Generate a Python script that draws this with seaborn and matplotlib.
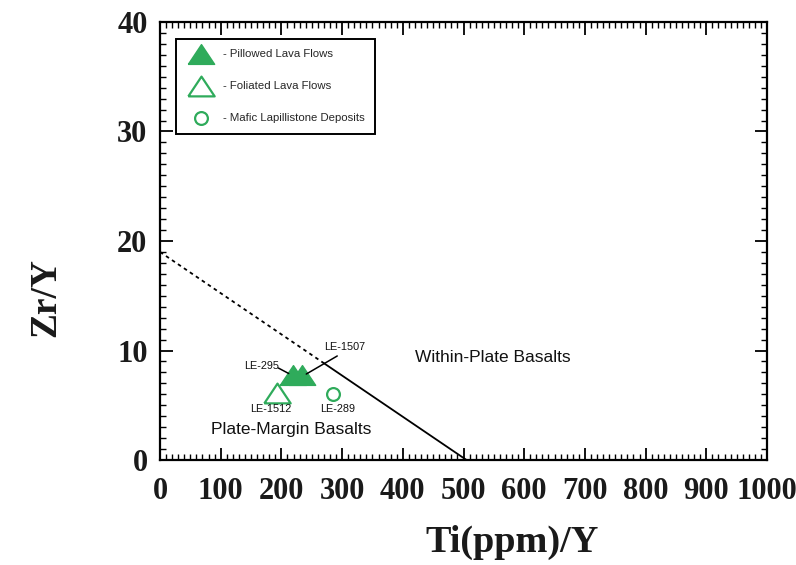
import numpy as np
import pandas as pd
import matplotlib
matplotlib.use("Agg")
import matplotlib.pyplot as plt
import seaborn as sns
from matplotlib.ticker import MultipleLocator

# ---- data ----
pillowed_ti = [219, 234]
pillowed_zr = [7.8, 7.8]
foliated_ti = [193]
foliated_zr = [6.1]
mafic_ti = [285]
mafic_zr = [6.0]

boundary_dash_x = [0, 270]
boundary_dash_y = [19, 8.84]
boundary_solid_x = [270, 505]
boundary_solid_y = [8.84, 0]

sample_labels = ["LE-295", "LE-1507", "LE-1512", "LE-289"]
label_xy = [(168, 8.6), (305, 10.3), (183, 4.65), (293, 4.65)]
pointer_from = [(195, 8.4), (292, 9.5)]
pointer_to = [(212, 7.9), (241, 7.85)]

field_labels = ["Plate-Margin Basalts", "Within-Plate Basalts"]
field_xy = [(216, 2.75), (549, 9.4)]

legend_labels = ["- Pillowed Lava Flows", "- Foliated Lava Flows", "- Mafic Lapillistone Deposits"]
x_ticks = [0, 100, 200, 300, 400, 500, 600, 700, 800, 900, 1000]
y_ticks = [0, 10, 20, 30, 40]

GREEN = "#2fab5b"

sns.set_theme(style="ticks")
plt.rcParams["font.family"] = ["Liberation Sans", "DejaVu Sans"]

fig = plt.figure(figsize=(7.96, 5.65), dpi=100)
ax = fig.add_axes([160 / 796, 105 / 565, 607 / 796, 438 / 565])

tri = [(-1, -0.75), (1, -0.75), (0, 0.75), (-1, -0.75)]

df_p = pd.DataFrame({"ti": pillowed_ti, "zr": pillowed_zr})
df_f = pd.DataFrame({"ti": foliated_ti, "zr": foliated_zr})
df_m = pd.DataFrame({"ti": mafic_ti, "zr": mafic_zr})

sns.scatterplot(data=df_p, x="ti", y="zr", ax=ax, marker=tri, s=360,
                color=GREEN, edgecolor=GREEN, linewidth=1.0,
                label=legend_labels[0], zorder=4)
sns.scatterplot(data=df_f, x="ti", y="zr", ax=ax, marker=tri, s=360,
                facecolor="white", edgecolor=GREEN, linewidth=1.6,
                label=legend_labels[1], zorder=4)
sns.scatterplot(data=df_m, x="ti", y="zr", ax=ax, marker="o", s=85,
                facecolor="white", edgecolor=GREEN, linewidth=1.6,
                label=legend_labels[2], zorder=4)

# boundary line
ax.plot(boundary_dash_x, boundary_dash_y, color="black", lw=1.3,
        linestyle=(0, (2.0, 2.0)), zorder=3)
ax.plot(boundary_solid_x, boundary_solid_y, color="black", lw=1.3, zorder=3)

# sample labels
for lab, (tx, ty) in zip(sample_labels, label_xy):
    ax.text(tx, ty, lab, fontsize=7.8, ha="center", va="center", color="#111111", zorder=5)
for (fx, fy), (tx, ty) in zip(pointer_from, pointer_to):
    ax.annotate("", xy=(tx, ty), xytext=(fx, fy),
                arrowprops=dict(arrowstyle="-", color="black", lw=1.1,
                                shrinkA=0, shrinkB=0), zorder=5)

for lab, (tx, ty) in zip(field_labels, field_xy):
    ax.text(tx, ty, lab, fontsize=12.5, ha="center", va="center", color="#111111")

ax.set_xlim(0, 1000)
ax.set_ylim(0, 40)
ax.set_xticks(x_ticks)
ax.set_yticks(y_ticks)
ax.xaxis.set_minor_locator(MultipleLocator(10))
ax.yaxis.set_minor_locator(MultipleLocator(1))
ax.tick_params(which="both", direction="in", top=True, right=True, color="black")
ax.tick_params(axis="x", which="major", length=9, width=1.3, pad=12.5)
ax.tick_params(axis="y", which="major", length=9, width=1.3, pad=9)
ax.tick_params(which="minor", length=4.5, width=1.0)
for lab in ax.get_xticklabels() + ax.get_yticklabels():
    lab.set_fontfamily("Liberation Serif")
    lab.set_fontweight("bold")
    lab.set_fontsize(22)
    lab.set_color("#1a1a1a")
for sp in ax.spines.values():
    sp.set_linewidth(1.6)
    sp.set_color("black")

ax.set_xlabel("Ti(ppm)/Y", fontfamily="Liberation Serif", fontweight="bold",
              fontsize=27.5, color="#1a1a1a")
ax.set_ylabel("Zr/Y", fontfamily="Liberation Serif", fontweight="bold",
              fontsize=27, color="#1a1a1a")
ax.xaxis.set_label_coords(0.58, -0.147)
ax.yaxis.set_label_coords(-0.16, 0.37)

leg = ax.legend(loc="upper left", bbox_to_anchor=(0.0264, 0.961), borderaxespad=0,
                fontsize=8.2, frameon=True, fancybox=False, labelspacing=1.93,
                handlelength=2.58, handletextpad=0.64, borderpad=0.9,
                markerscale=1.0)
leg.get_frame().set_edgecolor("black")
leg.get_frame().set_linewidth(1.4)
leg.get_frame().set_alpha(1)

fig.savefig("out.png", dpi=100)
